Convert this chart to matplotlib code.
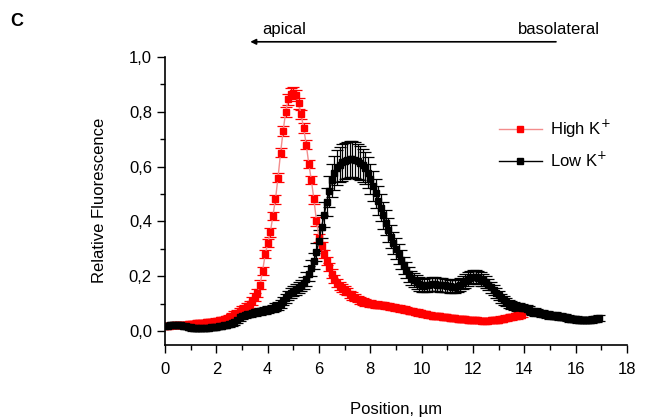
import numpy as np
import matplotlib.pyplot as plt
from matplotlib.lines import Line2D
from matplotlib.ticker import MultipleLocator, FuncFormatter

plt.rcParams['font.family'] = ['Liberation Sans', 'DejaVu Sans']

# sampling positions (um), 0.1 um steps
high_x = np.round(np.arange(0, 140) * 0.1, 1)
low_x = np.round(np.arange(0, 170) * 0.1, 1)

# High K+ (red), relative fluorescence
high_y = [
    0.02, 0.02, 0.02, 0.021, 0.021, 0.022, 0.022, 0.023, 0.024, 0.025,
    0.026, 0.027, 0.028, 0.029, 0.03, 0.031, 0.032, 0.033, 0.034, 0.035,
    0.037, 0.039, 0.041, 0.043, 0.046, 0.05, 0.055, 0.06, 0.066, 0.073,
    0.08, 0.085, 0.09, 0.098, 0.11, 0.125, 0.14, 0.17, 0.22, 0.28,
    0.32, 0.36, 0.42, 0.48, 0.56, 0.65, 0.73, 0.80, 0.845, 0.865,
    0.87, 0.86, 0.83, 0.79, 0.74, 0.68, 0.61, 0.55, 0.48, 0.40,
    0.34, 0.31, 0.28, 0.255, 0.235, 0.21, 0.19, 0.175, 0.165, 0.157,
    0.15, 0.143, 0.135, 0.128, 0.122, 0.117, 0.112, 0.108, 0.105, 0.102,
    0.1, 0.099, 0.097, 0.096, 0.095, 0.094, 0.093, 0.091, 0.089, 0.087,
    0.085, 0.083, 0.081, 0.079, 0.077, 0.075, 0.073, 0.071, 0.069, 0.067,
    0.065, 0.063, 0.061, 0.059, 0.057, 0.056, 0.055, 0.054, 0.053, 0.052,
    0.05, 0.049, 0.048, 0.047, 0.046, 0.045, 0.044, 0.043, 0.042, 0.041,
    0.04, 0.039, 0.039, 0.038, 0.038, 0.038, 0.038, 0.039, 0.04, 0.041,
    0.042, 0.044, 0.046, 0.048, 0.05, 0.052, 0.054, 0.056, 0.058, 0.06,
]
high_err = [
    0.01, 0.01, 0.01, 0.01, 0.01, 0.01, 0.01, 0.01, 0.01, 0.01,
    0.01, 0.01, 0.01, 0.01, 0.01, 0.01, 0.01, 0.01, 0.01, 0.01,
    0.01, 0.01, 0.01, 0.01, 0.01, 0.01, 0.012, 0.012, 0.012, 0.012,
    0.012, 0.012, 0.012, 0.012, 0.014, 0.014, 0.015, 0.015, 0.015, 0.015,
    0.015, 0.015, 0.015, 0.015, 0.015, 0.016, 0.017, 0.018, 0.02, 0.02,
    0.02, 0.02, 0.02, 0.018, 0.017, 0.016, 0.015, 0.015, 0.015, 0.015,
    0.015, 0.015, 0.015, 0.015, 0.015, 0.015, 0.014, 0.014, 0.014, 0.014,
    0.013, 0.013, 0.013, 0.013, 0.012, 0.012, 0.012, 0.012, 0.012, 0.012,
    0.012, 0.012, 0.012, 0.012, 0.011, 0.011, 0.011, 0.011, 0.011, 0.011,
    0.011, 0.011, 0.011, 0.011, 0.01, 0.01, 0.01, 0.01, 0.01, 0.01,
    0.01, 0.01, 0.01, 0.01, 0.01, 0.01, 0.01, 0.01, 0.01, 0.01,
    0.01, 0.01, 0.01, 0.01, 0.01, 0.01, 0.01, 0.01, 0.01, 0.01,
    0.01, 0.01, 0.01, 0.01, 0.01, 0.01, 0.01, 0.01, 0.01, 0.01,
    0.01, 0.01, 0.01, 0.01, 0.01, 0.01, 0.01, 0.01, 0.01, 0.01,
]

# Low K+ (black)
low_y = [
    0.02, 0.02, 0.021, 0.022, 0.022, 0.023, 0.022, 0.02, 0.018, 0.016,
    0.014, 0.012, 0.011, 0.011, 0.012, 0.012, 0.013, 0.013, 0.014, 0.015,
    0.016, 0.018, 0.02, 0.022, 0.024, 0.027, 0.03, 0.035, 0.042, 0.05,
    0.057, 0.06, 0.062, 0.064, 0.066, 0.068, 0.07, 0.072, 0.074, 0.076,
    0.078, 0.08, 0.083, 0.087, 0.092, 0.1, 0.11, 0.12, 0.13, 0.138,
    0.145, 0.152, 0.158, 0.165, 0.175, 0.19, 0.21, 0.23, 0.255, 0.29,
    0.33, 0.38, 0.425, 0.47, 0.51, 0.55, 0.575, 0.595, 0.607, 0.615,
    0.62, 0.625, 0.627, 0.627, 0.625, 0.62, 0.613, 0.605, 0.595, 0.578,
    0.555, 0.53, 0.503, 0.476, 0.45, 0.422, 0.396, 0.37, 0.345, 0.322,
    0.3, 0.28, 0.26, 0.24, 0.222, 0.207, 0.195, 0.186, 0.178, 0.172,
    0.168, 0.166, 0.168, 0.17, 0.172, 0.172, 0.17, 0.168, 0.168, 0.167,
    0.165, 0.163, 0.162, 0.162, 0.165, 0.17, 0.176, 0.183, 0.19, 0.195,
    0.198, 0.198, 0.195, 0.19, 0.186, 0.178, 0.17, 0.16, 0.15, 0.14,
    0.13, 0.12, 0.112, 0.105, 0.1, 0.096, 0.092, 0.089, 0.087, 0.085,
    0.083, 0.08, 0.076, 0.072, 0.07, 0.068, 0.066, 0.064, 0.062, 0.06,
    0.058, 0.057, 0.056, 0.055, 0.053, 0.052, 0.05, 0.048, 0.046, 0.045,
    0.043, 0.042, 0.041, 0.04, 0.04, 0.04, 0.041, 0.043, 0.045, 0.047,
]
low_err = [
    0.01, 0.01, 0.01, 0.01, 0.01, 0.01, 0.01, 0.01, 0.01, 0.01,
    0.01, 0.01, 0.01, 0.01, 0.01, 0.01, 0.01, 0.01, 0.01, 0.01,
    0.01, 0.01, 0.01, 0.01, 0.01, 0.012, 0.012, 0.012, 0.012, 0.012,
    0.012, 0.012, 0.012, 0.012, 0.012, 0.012, 0.012, 0.012, 0.012, 0.012,
    0.012, 0.012, 0.014, 0.014, 0.015, 0.015, 0.016, 0.016, 0.017, 0.018,
    0.018, 0.019, 0.02, 0.02, 0.022, 0.024, 0.026, 0.028, 0.03, 0.033,
    0.037, 0.042, 0.047, 0.052, 0.056, 0.06, 0.062, 0.064, 0.065, 0.066,
    0.066, 0.066, 0.066, 0.066, 0.065, 0.064, 0.062, 0.06, 0.058, 0.056,
    0.055, 0.054, 0.053, 0.052, 0.05, 0.048, 0.046, 0.044, 0.042, 0.04,
    0.038, 0.036, 0.034, 0.032, 0.03, 0.028, 0.026, 0.025, 0.025, 0.025,
    0.024, 0.024, 0.024, 0.024, 0.024, 0.024, 0.024, 0.024, 0.024, 0.024,
    0.024, 0.024, 0.024, 0.024, 0.024, 0.024, 0.024, 0.024, 0.024, 0.024,
    0.024, 0.024, 0.024, 0.024, 0.022, 0.022, 0.02, 0.02, 0.02, 0.018,
    0.018, 0.017, 0.016, 0.015, 0.015, 0.015, 0.015, 0.015, 0.015, 0.015,
    0.014, 0.014, 0.014, 0.013, 0.013, 0.013, 0.012, 0.012, 0.012, 0.012,
    0.012, 0.012, 0.012, 0.012, 0.012, 0.012, 0.011, 0.011, 0.011, 0.011,
    0.011, 0.011, 0.011, 0.011, 0.011, 0.011, 0.011, 0.011, 0.011, 0.011,
]

fig = plt.figure(figsize=(6.45, 4.18), dpi=100)
ax = fig.add_axes([0.256, 0.175, 0.716, 0.689])

ax.errorbar(high_x, high_y, yerr=high_err, fmt='-s', color='#f38c8c', lw=1,
            mfc='red', mec='red', ms=5, ecolor='red', elinewidth=0.9,
            capsize=4, capthick=0.9)
ax.errorbar(low_x, low_y, yerr=low_err, fmt='-s', color='black', lw=1,
            mfc='black', mec='black', ms=5, ecolor='black', elinewidth=0.9,
            capsize=4, capthick=0.9)

ax.set_xlim(0, 18)
ax.set_ylim(-0.05, 1.0)
ax.spines['top'].set_visible(False)
ax.spines['right'].set_visible(False)
ax.spines['left'].set_linewidth(1.2)
ax.spines['bottom'].set_linewidth(1.2)
ax.xaxis.set_major_locator(MultipleLocator(2))
ax.xaxis.set_minor_locator(MultipleLocator(1))
ax.yaxis.set_major_locator(MultipleLocator(0.2))
ax.yaxis.set_minor_locator(MultipleLocator(0.1))
ax.yaxis.set_major_formatter(FuncFormatter(lambda v, p: ('%.1f' % v).replace('.', ',')))
ax.set_yticks(np.arange(0, 1.01, 0.2))
ax.tick_params(which='major', direction='out', length=6, width=1, labelsize=12)
ax.tick_params(axis='x', which='major', pad=6)
ax.tick_params(which='minor', direction='out', length=3.5, width=1)

ax.set_xlabel('Position, µm', fontsize=12, labelpad=18)
ax.set_ylabel('Relative Fluorescence', fontsize=12, labelpad=16)

handles = [
    Line2D([], [], color='#f38c8c', marker='s', mfc='red', mec='red', ms=5, lw=1),
    Line2D([], [], color='black', marker='s', mfc='black', mec='black', ms=5, lw=1),
]
ax.legend(handles, ['High K$^{+}$', 'Low K$^{+}$'], loc='upper left',
          bbox_to_anchor=(0.69, 0.84), frameon=False, fontsize=12,
          handlelength=2.6, handletextpad=0.5, labelspacing=0.6)

# orientation arrow above the plot
ax.annotate('', xy=(0.388, 0.9), xytext=(0.862, 0.9), xycoords='figure fraction',
            textcoords='figure fraction',
            arrowprops=dict(arrowstyle='-|>', color='black', lw=1.2,
                            mutation_scale=8, shrinkA=0, shrinkB=0))
fig.text(0.406, 0.912, 'apical', fontsize=12, ha='left', va='bottom')
fig.text(0.93, 0.912, 'basolateral', fontsize=12, ha='right', va='bottom')
fig.text(0.016, 0.948, 'C', fontsize=13, fontweight='bold', ha='left', va='center')

fig.savefig('out.png', dpi=100)
